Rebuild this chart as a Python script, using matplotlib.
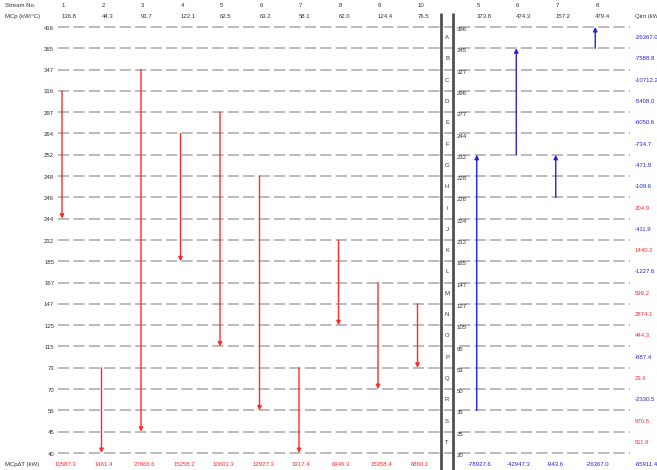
import matplotlib
matplotlib.use("Agg")
import matplotlib.pyplot as plt

plt.rcParams['font.family'] = ['Liberation Sans', 'DejaVu Sans']

# temperature interval boundaries (hot scale on the left, shifted cold scale on the right)
hot_temps = [416, 365, 347, 316, 297, 264, 252, 248, 246, 244, 232,
             185, 167, 147, 125, 115, 73, 70, 55, 45, 40]
cold_temps = [396, 345, 327, 296, 277, 244, 232, 228, 226, 224, 212,
              165, 147, 127, 105, 95, 53, 50, 35, 25, 20]
interval_names = list("ABCDEFGHIJKLMNOPQRST")

# hot streams
hot_ids = [1, 2, 3, 4, 5, 6, 7, 8, 9, 10]
hot_mcp = ["136.8", "44.3", "91.7", "122.1", "62.5", "63.2", "58.1", "62.0", "124.4", "76.5"]
hot_supply = [316, 73, 347, 264, 297, 248, 73, 232, 167, 147]
hot_target = [244, 40, 45, 185, 115, 55, 40, 125, 70, 73]
hot_duty = ["10587.3", "1461.4", "27866.6", "15258.2", "10601.3", "12927.3",
            "1917.4", "6946.3", "15358.4", "6860.1"]

# cold streams
cold_ids = [5, 6, 7, 8]
cold_mcp = ["373.8", "474.3", "157.2", "479.4"]
cold_supply = [35, 232, 226, 345]
cold_target = [232, 345, 232, 396]
cold_duty = ["-78927.6", "-42947.3", "-943.6", "-26367.0"]

# interval heat balance
q_int = [-26367.0, -7588.8, -10712.2, -5408.0, -6050.6, -734.7, -471.9, -109.6,
         204.9, -411.9, 1440.2, -1227.6, 599.2, 2874.1, 444.3, -887.4,
         23.6, -2330.5, 970.5, 511.9]
q_total = "-65911.4"

RED = '#ff2a2a'
BLUE = '#2424dc'
TXT = '#333333'
fs = 4.3

fig = plt.figure(figsize=(6.57, 4.70), dpi=100)
ax = fig.add_axes([0, 0, 1, 1])
# one x unit = one stream column, one y unit = one temperature line
ax.set_xlim(-22.5 / 39.5, (657 - 22.5) / 39.5)
ax.set_ylim((470 - 27) / 21.3, -27 / 21.3)
ax.axis('off')

n = len(hot_temps)
hot_x = [i + 1 for i in range(len(hot_ids))]
cold_x = [11.5 + j for j in range(len(cold_ids))]

# dashed temperature lines
ax.hlines(range(n), 0.9, 15.38, colors='#a8a8a8', lw=1.1, linestyles=(0, (7.3, 2.8)))

# double separator bars
ax.vlines([10.6, 10.9], -0.66, 21, colors='#505050', lw=2.0)

for i in range(n):
    ax.text(0.8, i + 0.05, str(hot_temps[i]), ha='right', va='center', fontsize=fs, color=TXT)
    ax.text(11.0, i + 0.12, str(cold_temps[i]), ha='left', va='center', fontsize=fs, color=TXT)

for k, name in enumerate(interval_names):
    ax.text(10.75, k + 0.5, name, ha='center', va='center', fontsize=fs, color=TXT)
    q = q_int[k]
    ax.text(15.5, k + 0.5, f"{q:.1f}", ha='left', va='center', fontsize=fs,
            color=RED if q > 0 else BLUE)

# header rows
ax.text(-0.44, -0.99, "Stream No.", ha='left', va='center', fontsize=fs, color=TXT)
ax.text(-0.44, -0.47, "MCp (kW/°C)", ha='left', va='center', fontsize=fs, color=TXT)
ax.text(15.5, -0.47, "Qint (kW)", ha='left', va='center', fontsize=fs, color=TXT)
ax.text(-0.44, 20.56, "MCpΔT (kW)", ha='left', va='center', fontsize=fs, color=TXT)

# hot stream arrows
for x, sid, m, ts, tt, d in zip(hot_x, hot_ids, hot_mcp, hot_supply, hot_target, hot_duty):
    ax.text(x, -0.99, str(sid), ha='left', va='center', fontsize=fs, color=TXT)
    ax.text(x, -0.47, m, ha='left', va='center', fontsize=fs, color=TXT)
    y0 = hot_temps.index(ts)
    y1 = hot_temps.index(tt)
    ax.annotate('', xy=(x, y1), xytext=(x, y0),
                arrowprops=dict(arrowstyle='-|>', color=RED, lw=1.0,
                                mutation_scale=6, shrinkA=0, shrinkB=0))
    ax.text(x - 0.18, 20.56, d, ha='left', va='center', fontsize=fs, color=RED)

# cold stream arrows
for x, sid, m, ts, tt, d in zip(cold_x, cold_ids, cold_mcp, cold_supply, cold_target, cold_duty):
    ax.text(x, -0.99, str(sid), ha='left', va='center', fontsize=fs, color=TXT)
    ax.text(x, -0.47, m, ha='left', va='center', fontsize=fs, color=TXT)
    y0 = cold_temps.index(ts)
    y1 = cold_temps.index(tt)
    ax.annotate('', xy=(x, y1), xytext=(x, y0),
                arrowprops=dict(arrowstyle='-|>', color=BLUE, lw=1.0,
                                mutation_scale=6, shrinkA=0, shrinkB=0))
    ax.text(x - 0.23, 20.56, d, ha='left', va='center', fontsize=fs, color=BLUE)

ax.text(15.5, 20.56, q_total, ha='left', va='center', fontsize=fs, color=BLUE)

fig.savefig("out.png", dpi=100)
